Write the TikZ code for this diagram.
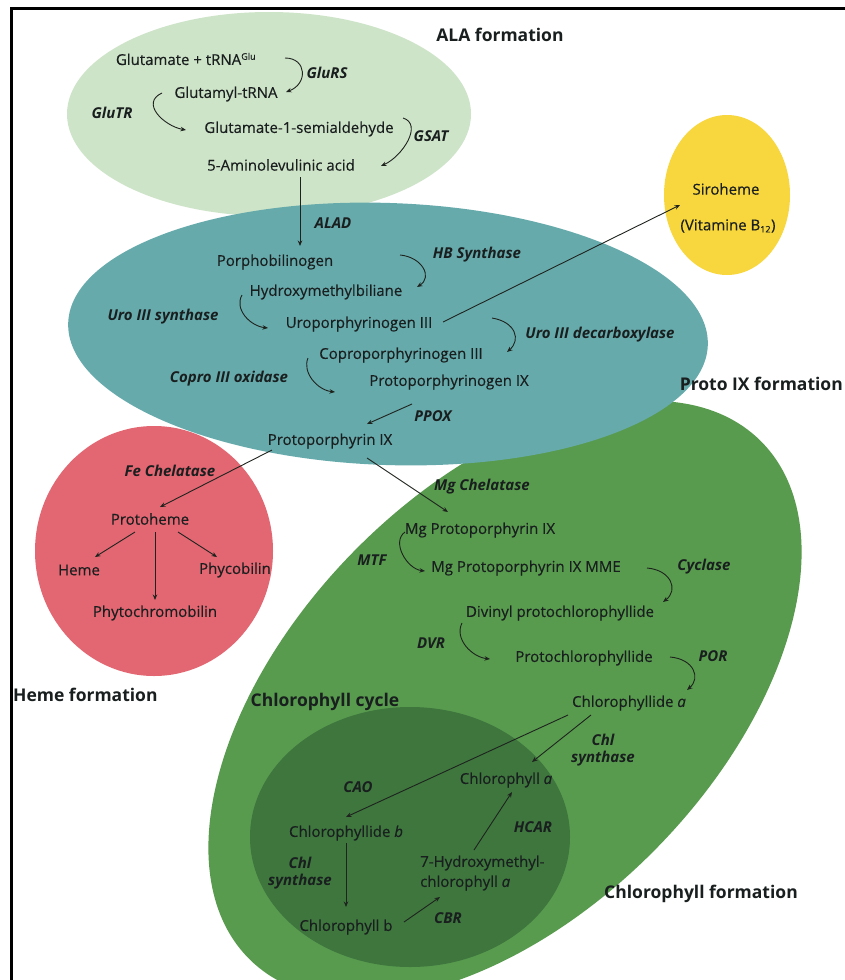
\documentclass[tikz,border=0pt]{standalone}
\usepackage{fontspec}
\setmainfont{Open Sans}
\newfontfamily\medfont{Open Sans}[FakeBold=0.35]
\usetikzlibrary{arrows.meta}
\definecolor{cLG}{RGB}{206,228,200}
\definecolor{cB}{RGB}{103,170,172}
\definecolor{cY}{RGB}{247,214,62}
\definecolor{cR}{RGB}{226,103,114}
\definecolor{cG}{RGB}{88,155,78}
\definecolor{cDG}{RGB}{62,118,62}
\definecolor{cTxt}{RGB}{25,30,30}
\definecolor{cLine}{RGB}{30,35,30}
\newcommand\fsN{\fontsize{15}{17}\selectfont}
\newcommand\fsT{\fontsize{17.5}{20}\selectfont}
\begin{document}
\begin{tikzpicture}[x=1pt,y=-1pt,
  t/.style={font=\fsN\medfont, text=cTxt, inner sep=1pt},
  enz/.style={font=\fsN\bfseries\itshape, text=cTxt, inner sep=1pt, align=center},
  ttl/.style={font=\fsT\bfseries, text=cTxt, inner sep=1pt},
  arr/.style={draw=cLine, line width=0.9pt, -{Stealth[length=5.5pt,width=4.5pt]}},
]
\useasboundingbox (0,0) rectangle (845,980);
\fill[white] (0,0) rectangle (845,980);

% regions
\fill[cLG] (269,114) ellipse [x radius=202pt, y radius=102pt];
\fill[cG, rotate around={45.5:(505,700)}] (505,700) ellipse [x radius=364pt, y radius=212pt];
\fill[cB, rotate around={-2:(388,334)}] (388,334) ellipse [x radius=320pt, y radius=131pt];
\fill[cY] (727,195) ellipse [x radius=63pt, y radius=80pt];
\fill[cR] (154,551) ellipse [x radius=119pt, y radius=125pt];
\fill[cDG] (410,837) ellipse [x radius=160pt, y radius=130pt];

% frame
\draw[line width=3pt] (11.5,985) -- (11.5,8.5) -- (850,8.5);

% titles
\node[ttl] (tALA) at (500,35) {ALA formation};
\node[ttl, anchor=east] (tProto) at (844,384) {Proto IX formation};
\node[ttl, anchor=west] (tHeme) at (12,695) {Heme formation};
\node[ttl] (tCycle) at (325,702) {Chlorophyll cycle};
\node[ttl] (tChl) at (701,894) {Chlorophyll formation};

% ALA formation
\node[t] (glu) at (186,59) {Glutamate + tRNA\textsuperscript{\fontsize{9}{9}\selectfont Glu}};
\node[enz] (gluRS) at (327,73) {GluRS};
\node[t] (gtrna) at (226,94) {Glutamyl-tRNA};
\node[enz] (gluTR) at (112,113) {GluTR};
\node[t] (gsa) at (299,129) {Glutamate-1-semialdehyde};
\node[enz] (gsat) at (431,136) {GSAT};
\node[t] (ala) at (281,165) {5-Aminolevulinic acid};

% Proto IX formation
\node[enz] (alad) at (333,223) {ALAD};
\node[t] (pbg) at (275,262) {Porphobilinogen};
\node[enz] (hbs) at (477,255) {HB Synthase};
\node[t] (hmb) at (326,292) {Hydroxymethylbiliane};
\node[enz] (uros) at (163,317) {Uro III synthase};
\node[t] (uro) at (359,324) {Uroporphyrinogen III};
\node[enz] (urod) at (600,335) {Uro III decarboxylase};
\node[t] (copro) at (401,355) {Coproporphyrinogen III};
\node[enz] (coprox) at (229,379) {Copro III oxidase};
\node[t] (protogen) at (449,382) {Protoporphyrinogen IX};
\node[enz] (ppox) at (433,416) {PPOX};
\node[t] (ppix) at (330,441) {Protoporphyrin IX};

% Siroheme
\node[t] (siro) at (726,189) {Siroheme};
\node[t] (vitb) at (728,226) {(Vitamine B\textsubscript{\fontsize{9}{9}\selectfont 12})};

% Heme formation
\node[enz] (fech) at (170,471) {Fe Chelatase};
\node[t] (protoheme) at (150,519) {Protoheme};
\node[t] (heme) at (79,570) {Heme};
\node[t] (phyco) at (235,570) {Phycobilin};
\node[t] (phyto) at (155,613) {Phytochromobilin};

% Chlorophyll formation
\node[enz] (mgch) at (482,487) {Mg Chelatase};
\node[t] (mgp) at (480,530) {Mg Protoporphyrin IX};
\node[enz] (mtf) at (372,560) {MTF};
\node[t] (mgpm) at (526,568) {Mg Protoporphyrin IX MME};
\node[enz] (cyc) at (704,567) {Cyclase};
\node[t] (dvp) at (560,613) {Divinyl protochlorophyllide};
\node[enz] (dvr) at (431,643) {DVR};
\node[t] (pchl) at (584,658) {Protochlorophyllide};
\node[enz] (por) at (713,656) {POR};
\node[t] (chlida) at (629,703) {Chlorophyllide \textit{a}};

% Chlorophyll cycle
\node[enz] (chls1) at (603,750) {Chl\\synthase};
\node[t] (chla) at (506,780) {Chlorophyll \textit{a}};
\node[enz] (cao) at (358,787) {CAO};
\node[t] (chlidb) at (346,833) {Chlorophyllide \textit{b}};
\node[enz] (hcar) at (533,827) {HCAR};
\node[t, anchor=west, align=left, font=\fontsize{15}{20}\selectfont\medfont] (hmc) at (419,873) {7-Hydroxymethyl-\\chlorophyll \textit{a}};
\node[enz] (chls2) at (300,873) {Chl\\synthase};
\node[t] (chlb) at (346,927) {Chlorophyll b};
\node[enz] (cbr) at (448,918) {CBR};

% connector end points
\coordinate (a1s) at (285,58);  \coordinate (a1e) at (286,92);
\coordinate (a2s) at (162,93);  \coordinate (a2e) at (186,130);
\coordinate (a3s) at (403,118); \coordinate (a3e) at (381,166);
\coordinate (alaT) at (300,177); \coordinate (pbgT) at (300,246);
\coordinate (a4s) at (400,255); \coordinate (a4e) at (417,287);
\coordinate (a5s) at (242,295); \coordinate (a5e) at (268,328);
\coordinate (uroE) at (443,322); \coordinate (siroW) at (680,205);
\coordinate (a6s) at (492,318); \coordinate (a6e) at (507,352);
\coordinate (a7s) at (308,358); \coordinate (a7e) at (335,392);
\coordinate (protogenS) at (412,404); \coordinate (ppixN) at (367,424);
\coordinate (ppixSW) at (272,450); \coordinate (protohemeN) at (160,507);
\coordinate (ppixSE) at (367,458); \coordinate (mgpN) at (448,512);
\coordinate (phS1) at (135,532); \coordinate (hemeN) at (95,557);
\coordinate (phS2) at (178,532); \coordinate (phycoN) at (217,557);
\coordinate (phS3) at (155,532); \coordinate (phytoN) at (155,600);
\coordinate (a8s) at (405,532); \coordinate (a8e) at (425,571);
\coordinate (a9s) at (647,568); \coordinate (a9e) at (663,602);
\coordinate (a10s) at (462,623); \coordinate (a10e) at (490,659);
\coordinate (a11s) at (670,657); \coordinate (a11e) at (687,690);
\coordinate (chlidaS1) at (568,715); \coordinate (chlidbN) at (346,817);
\coordinate (chlidaS2) at (591,715); \coordinate (chlaN) at (532,762);
\coordinate (hmcN) at (474,850); \coordinate (chlaS) at (512,792);
\coordinate (chlidbS) at (346,843); \coordinate (chlbN) at (346,907);
\coordinate (chlbE) at (404,922); \coordinate (hmcS) at (440,897);

% connectors
\draw[arr] (a1s) .. controls +(22,0) and +(22,-8) .. (a1e);
\draw[arr] (a2s) .. controls +(-22,10) and +(-22,-4) .. (a2e);
\draw[arr] (a3s) .. controls +(20,6) and +(22,-10) .. (a3e);
\draw[arr] (alaT) -- (pbgT);
\draw[arr] (a4s) .. controls +(22,2) and +(16,-10) .. (a4e);
\draw[arr] (a5s) .. controls +(-8,14) and +(-18,-2) .. (a5e);
\draw[arr] (uroE) -- (siroW);
\draw[arr] (a6s) .. controls +(24,4) and +(14,-12) .. (a6e);
\draw[arr] (a7s) .. controls +(-6,14) and +(-18,-2) .. (a7e);
\draw[arr] (protogenS) -- (ppixN);
\draw[arr] (ppixSW) -- (protohemeN);
\draw[arr] (ppixSE) -- (mgpN);
\draw[arr] (phS1) -- (hemeN);
\draw[arr] (phS2) -- (phycoN);
\draw[arr] (phS3) -- (phytoN);
\draw[arr] (a8s) .. controls +(-14,10) and +(-18,-2) .. (a8e);
\draw[arr] (a9s) .. controls +(24,2) and +(16,-12) .. (a9e);
\draw[arr] (a10s) .. controls +(-8,16) and +(-18,-2) .. (a10e);
\draw[arr] (a11s) .. controls +(24,2) and +(14,-12) .. (a11e);
\draw[arr] (chlidaS1) -- (chlidbN);
\draw[arr] (chlidaS2) -- (chlaN);
\draw[arr] (hmcN) -- (chlaS);
\draw[arr] (chlidbS) -- (chlbN);
\draw[arr] (chlbE) -- (hmcS);
\end{tikzpicture}
\end{document}
